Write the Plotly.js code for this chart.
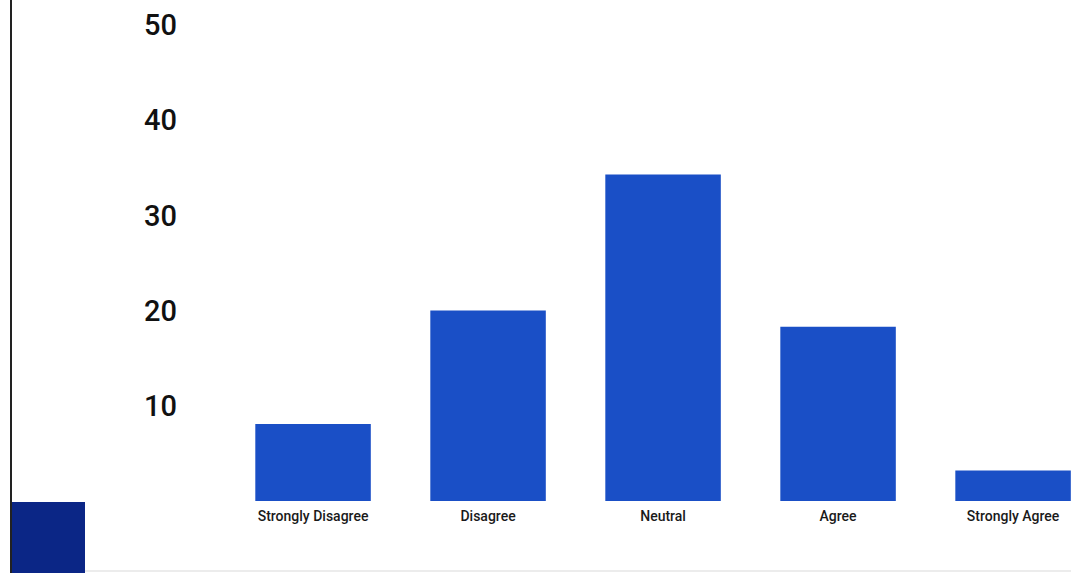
<!DOCTYPE html>
<html>
<head>
<meta charset="utf-8">
<script src="https://cdn.plot.ly/plotly-3.0.1.min.js"></script>
<style>html,body{margin:0;padding:0;background:#fff;}#chart{width:1071px;height:573px;}</style>
</head>
<body>
<div id="chart"></div>
<script>
const categories = ["Strongly Disagree", "Disagree", "Neutral", "Agree", "Strongly Agree"];
const responses = [8.1, 20, 34.3, 18.3, 3.2];
const yTickValues = [10, 20, 30, 40, 50];
const yTickLabels = ["10", "20", "30", "40", "50"];

const W = 1071, H = 573;
const L = 186, B = 72;
const plotW = W - L;
const plotH = H - B;
function px2paperX(p) { return (p - L) / plotW; }
function px2paperY(p) { return (H - B - p) / plotH; }

const trace = {
  type: 'bar',
  x: categories,
  y: responses,
  marker: { color: '#1a4fc6', line: { width: 0 } },
  hoverinfo: 'x+y'
};

const layout = {
  width: W, height: H,
  margin: { l: L, r: 0, t: 0, b: B, pad: 0 },
  paper_bgcolor: '#ffffff',
  plot_bgcolor: '#ffffff',
  showlegend: false,
  bargap: 0.34,
  xaxis: {
    type: 'category',
    range: [-0.726, 4.331],
    showgrid: false, zeroline: false, showline: false,
    ticks: '',
    tickfont: { family: 'Roboto', size: 14, color: '#1a1a1a', weight: 500 },
    ticklabelstandoff: 5,
    fixedrange: true
  },
  yaxis: {
    range: [0, 52.63],
    tickvals: yTickValues,
    ticktext: yTickLabels,
    showgrid: false, zeroline: false, showline: false,
    ticks: '',
    tickfont: { family: 'Roboto', size: 29, color: '#111111', weight: 500 },
    ticklabelstandoff: 8,
    fixedrange: true
  },
  shapes: [
    { type: 'line', xref: 'paper', yref: 'paper',
      x0: px2paperX(11), x1: px2paperX(11), y0: px2paperY(0), y1: px2paperY(573),
      line: { color: '#222222', width: 2 } },
    { type: 'rect', xref: 'paper', yref: 'paper',
      x0: px2paperX(12), x1: px2paperX(85), y0: px2paperY(502), y1: px2paperY(573),
      fillcolor: '#0b2686', line: { width: 0 } },
    { type: 'line', xref: 'paper', yref: 'paper',
      x0: px2paperX(85), x1: px2paperX(1071), y0: px2paperY(571), y1: px2paperY(571),
      line: { color: '#ececec', width: 2 } }
  ]
};

Plotly.newPlot('chart', [trace], layout, { displayModeBar: false, staticPlot: true });
</script>
</body>
</html>
